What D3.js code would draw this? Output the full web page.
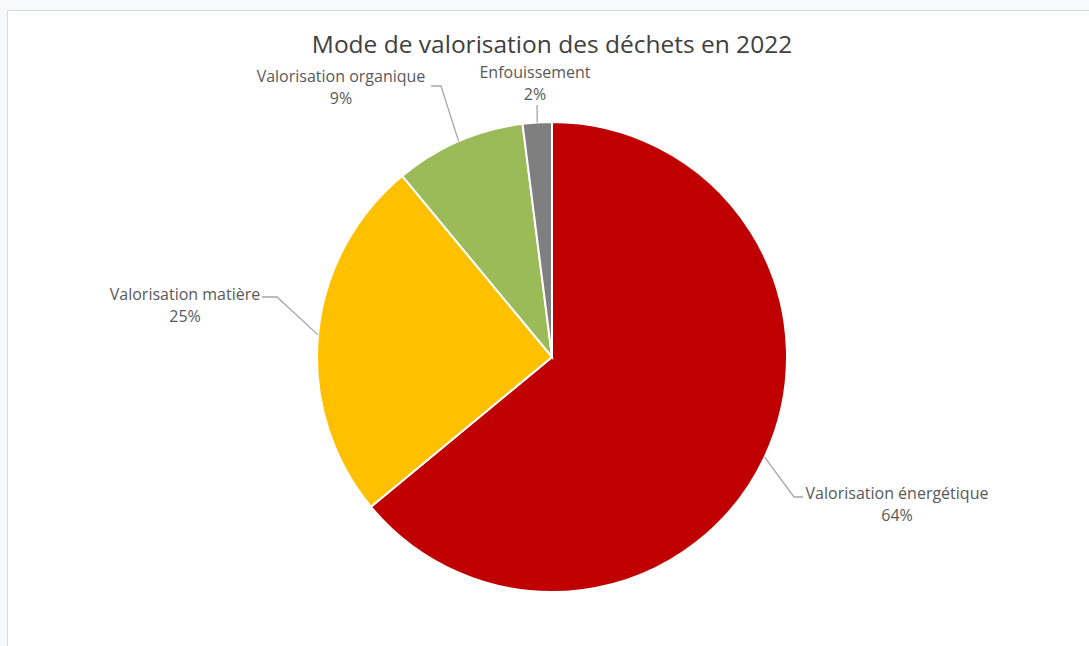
<!DOCTYPE html>
<html>
<head>
<meta charset="utf-8">
<script src="https://cdn.jsdelivr.net/npm/d3@7"></script>
<style>
  body { margin: 0; background: #f6fafc; }
  svg { display: block; }
</style>
</head>
<body>
<svg id="chart" width="1089" height="646"></svg>
<script>
// Data
const categories = ["Valorisation énergétique", "Valorisation matière", "Valorisation organique", "Enfouissement"];
const shares = [64, 25, 9, 2];
const colors = ["#C00000", "#FFC000", "#9BBB59", "#7F7F7F"];

// Label placement (layout only): text centre x, first baseline y, leader elbow
const labelLayout = [
  { x: 897, y: 499, elbow: [794, 497], end: [803, 497] },
  { x: 185, y: 300, elbow: [277, 297], end: [262, 297] },
  { x: 341, y: 82,  elbow: [441, 86],  end: [431, 86] },
  { x: 535, y: 78,  elbow: [537, 105], end: [537, 105] }
];

const svg = d3.select("#chart");
const width = +svg.attr("width");
const height = +svg.attr("height");

// Chart area frame
svg.append("rect")
  .attr("x", 7.5).attr("y", 10.5)
  .attr("width", width).attr("height", height)
  .attr("fill", "#fff")
  .attr("stroke", "#d9d9d9");

// Title
svg.append("text")
  .attr("x", 552).attr("y", 53)
  .attr("text-anchor", "middle")
  .attr("font-family", "Open Sans")
  .attr("font-size", 24.5)
  .attr("fill", "#404040")
  .text("Mode de valorisation des déchets en 2022");

const cx = 552, cy = 357, radius = 235;

const data = categories.map((name, i) => ({ name, value: shares[i], color: colors[i], i }));

const pie = d3.pie().value(d => d.value).sort(null);
const arc = d3.arc().innerRadius(0).outerRadius(radius);
const arcs = pie(data);

const g = svg.append("g").attr("transform", `translate(${cx},${cy})`);

g.selectAll("path")
  .data(arcs)
  .join("path")
  .attr("d", arc)
  .attr("fill", d => d.data.color)
  .attr("stroke", "#fff")
  .attr("stroke-width", 2);

// Leader lines from slice edge (at mid angle) to the labels
const lineLayer = svg.append("g");
arcs.forEach(a => {
  const mid = (a.startAngle + a.endAngle) / 2;
  const px = cx + radius * Math.sin(mid);
  const py = cy - radius * Math.cos(mid);
  const L = labelLayout[a.data.i];
  lineLayer.append("polyline")
    .attr("points", [[px, py], L.elbow, L.end].map(p => p.join(",")).join(" "))
    .attr("fill", "none")
    .attr("stroke", "#a6a6a6")
    .attr("stroke-width", 1.3);
});

// Labels
const labels = svg.append("g")
  .attr("font-family", "Open Sans")
  .attr("font-size", 16)
  .attr("fill", "#595959")
  .attr("text-anchor", "middle");

arcs.forEach(a => {
  const L = labelLayout[a.data.i];
  const t = labels.append("text").attr("x", L.x).attr("y", L.y);
  t.append("tspan").attr("x", L.x).text(a.data.name);
  t.append("tspan").attr("x", L.x).attr("dy", 22).text(a.data.value + "%");
});
</script>
</body>
</html>
